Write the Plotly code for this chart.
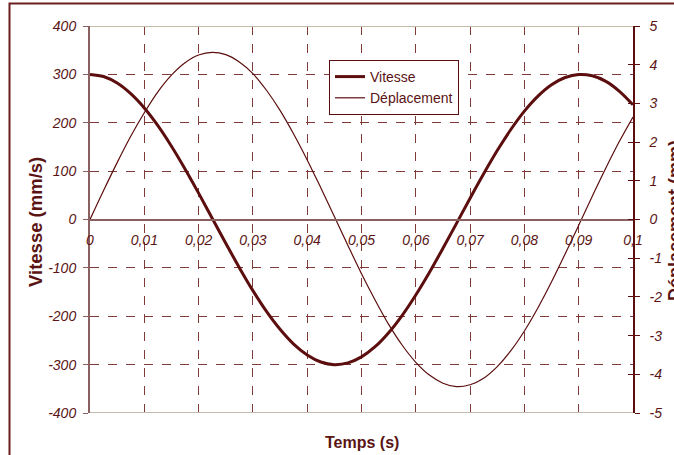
import plotly.graph_objects as go

# Time (s)
temps = [0.0, 0.0025, 0.005, 0.0075, 0.01, 0.0125, 0.015, 0.0175, 0.02, 0.0225,
         0.025, 0.0275, 0.03, 0.0325, 0.035, 0.0375, 0.04, 0.0425, 0.045, 0.0475,
         0.05, 0.0525, 0.055, 0.0575, 0.06, 0.0625, 0.065, 0.0675, 0.07, 0.0725,
         0.075, 0.0775, 0.08, 0.0825, 0.085, 0.0875, 0.09, 0.0925, 0.095, 0.0975, 0.1]

# Vitesse (mm/s)
vitesse = [300, 295.5, 282, 260, 230.5, 194, 151.5, 104.5, 54.5, 2.5,
           -49, -99.5, -147, -190, -227, -257.5, -280, -294.5, -300, -296.5,
           -284, -263, -234, -198, -156, -109.5, -59.5, -8, 44, 94.5,
           142.5, 186, 224, 255, 278.5, 293.5, 299.8, 297, 285.5, 265, 237]

# Déplacement (mm)
deplacement = [0, 0.75, 1.47, 2.15, 2.76, 3.30, 3.73, 4.05, 4.25, 4.32,
               4.26, 4.07, 3.77, 3.34, 2.82, 2.21, 1.54, 0.82, 0.08, -0.67,
               -1.40, -2.08, -2.71, -3.25, -3.69, -4.02, -4.23, -4.32, -4.27, -4.10,
               -3.80, -3.39, -2.88, -2.28, -1.61, -0.89, -0.15, 0.60, 1.33, 2.02, 2.65]

x_ticks = [0, 0.01, 0.02, 0.03, 0.04, 0.05, 0.06, 0.07, 0.08, 0.09, 0.1]
x_labels = ["0", "0,01", "0,02", "0,03", "0,04", "0,05", "0,06", "0,07", "0,08", "0,09", "0,1"]
y1_ticks = [-400, -300, -200, -100, 0, 100, 200, 300, 400]
y1_labels = ["-400", "-300", "-200", "-100", "0", "100", "200", "300", "400"]
y2_ticks = [-5, -4, -3, -2, -1, 0, 1, 2, 3, 4, 5]
y2_labels = ["-5", "-4", "-3", "-2", "-1", "0", "1", "2", "3", "4", "5"]

LINE = "#5c0e0e"
TXT = "#5a1414"
GRID = "#7f3a3a"
FONT = "Liberation Sans, Arial, sans-serif"

fig = go.Figure()
fig.add_trace(go.Scatter(x=temps, y=vitesse, name="Vitesse", mode="lines",
                         line=dict(color=LINE, width=3, shape="spline"), yaxis="y"))
fig.add_trace(go.Scatter(x=temps, y=deplacement, name="Déplacement", mode="lines",
                         line=dict(color=LINE, width=1.2, shape="spline"), yaxis="y2"))

tickfont = dict(family=FONT, size=14, color=TXT, style="italic")

fig.update_layout(
    width=674, height=455,
    margin=dict(l=90, r=41, t=26, b=42),
    paper_bgcolor="white", plot_bgcolor="white",
    showlegend=True,
    legend=dict(x=(329 - 90) / 543, y=(413 - 60) / 387, xanchor="left", yanchor="top",
                bgcolor="white", bordercolor=LINE, borderwidth=1,
                font=dict(family=FONT, size=14, color=TXT),
                tracegroupgap=0, itemwidth=30),
    xaxis=dict(range=[0, 0.1], tickvals=x_ticks, ticktext=x_labels,
               anchor="free", position=0.5, showline=True, linecolor="#8b6060", linewidth=2,
               ticks="", ticklabelstandoff=8, tickfont=tickfont,
               showgrid=True, gridcolor=GRID, griddash="dash", gridwidth=1,
               zeroline=False),
    yaxis=dict(range=[-400, 400], tickvals=y1_ticks, ticktext=y1_labels,
               showline=True, linecolor="#8b6060", linewidth=2,
               ticks="outside", ticklen=5, tickcolor="#8b6060", tickwidth=1,
               ticklabelstandoff=4, tickfont=tickfont,
               showgrid=True, gridcolor=GRID, griddash="dash", gridwidth=1,
               zeroline=False),
    yaxis2=dict(range=[-5, 5], tickvals=y2_ticks, ticktext=y2_labels,
                overlaying="y", side="right", anchor="x",
                showline=True, linecolor=LINE, linewidth=1.5,
                ticks="outside", ticklen=5, tickcolor=LINE, tickwidth=1,
                ticklabelstandoff=7, tickfont=tickfont,
                showgrid=False, zeroline=False),
    yaxis3=dict(range=[-5, 5], tickvals=y2_ticks, overlaying="y", side="right", anchor="x",
                showline=False, ticks="inside", ticklen=5, tickcolor=LINE, tickwidth=1,
                showticklabels=False, showgrid=False, zeroline=False),
    shapes=[
        dict(type="line", xref="x", yref="y", x0=0, x1=0.1, y0=400, y1=400,
             line=dict(color="#c4bca8", width=2)),
        dict(type="line", xref="x", yref="y", x0=0, x1=0.1, y0=-400, y1=-400,
             line=dict(color="#c4bca8", width=2)),
        dict(type="rect", xref="paper", yref="paper",
             x0=(9.5 - 90) / 543, x1=(680 - 90) / 543,
             y0=(413 - 470) / 387, y1=(413 - 3.5) / 387,
             line=dict(color="#6b1f1f", width=2), layer="below"),
    ],
    annotations=[
        dict(text="<b>Vitesse (mm/s)</b>", xref="paper", yref="paper",
             x=(35 - 90) / 543, y=(413 - 222) / 387, textangle=-90, showarrow=False,
             xanchor="center", yanchor="middle",
             font=dict(family=FONT, size=18.5, color=TXT)),
        dict(text="<b>Déplacement (mm)</b>", xref="paper", yref="paper",
             x=(675 - 90) / 543, y=(413 - 221) / 387, textangle=-90, showarrow=False,
             xanchor="center", yanchor="middle",
             font=dict(family=FONT, size=18, color=TXT)),
        dict(text="<b>Temps (s)</b>", xref="paper", yref="paper",
             x=(362 - 90) / 543, y=(413 - 443) / 387, showarrow=False,
             xanchor="center", yanchor="middle",
             font=dict(family=FONT, size=16, color=TXT)),
    ],
)

fig.add_trace(go.Scatter(x=[None], y=[None], yaxis="y3", showlegend=False, hoverinfo="skip"))

fig.write_html("out.html", config={"displayModeBar": False},
               post_script="document.body.style.margin='0';document.body.style.overflow='hidden';")
